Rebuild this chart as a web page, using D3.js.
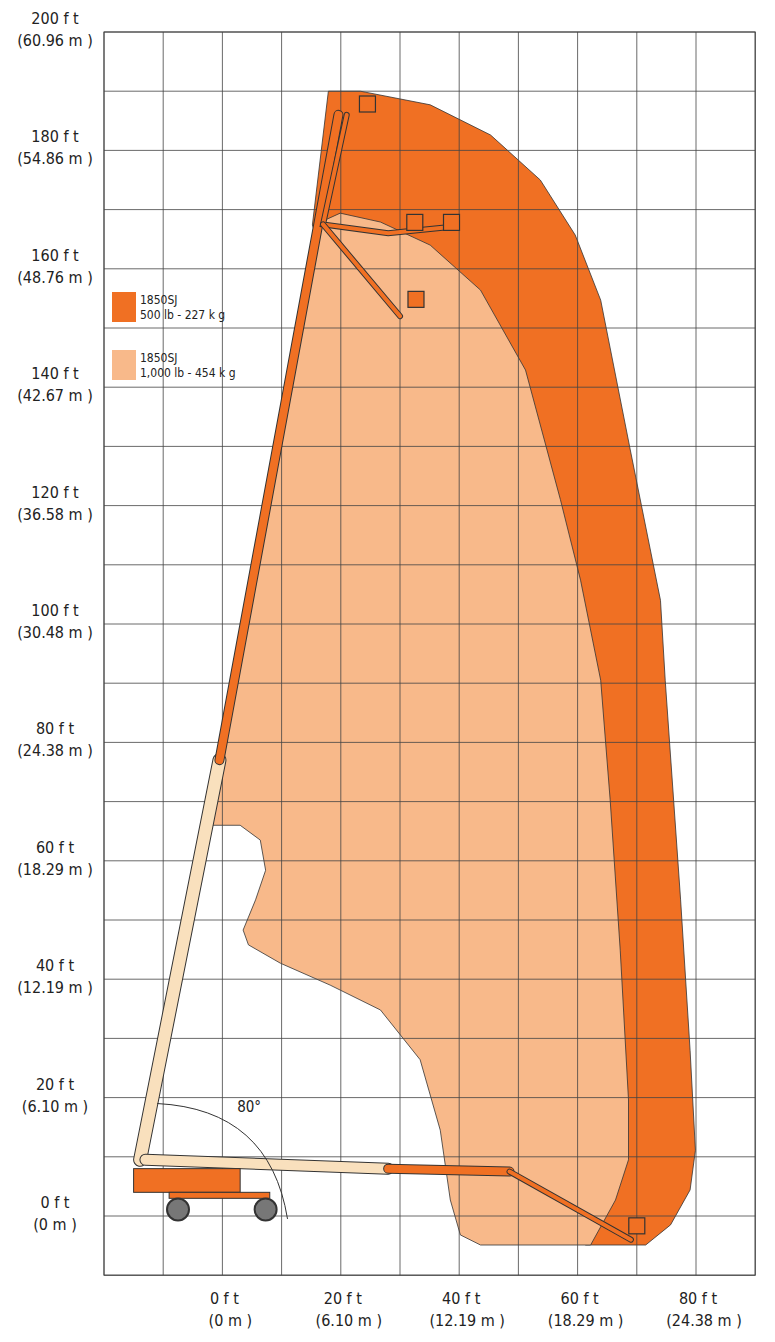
<!DOCTYPE html>
<html><head><meta charset="utf-8">
<script src="https://cdn.jsdelivr.net/npm/d3@7"></script>
<style>body{margin:0;background:#fff}text{font-family:"DejaVu Sans",sans-serif;font-stretch:condensed;fill:#222}</style>
</head><body><div id="chart"></div>
<script>
// envelope outlines, [ft out, ft up]
var outerEnvelope = [[17.9,190],[23.3,190],[35.1,187.7],[45.3,182.6],[53.7,175],[59.6,165.7],[63.9,154.7],[68.9,129.4],[74,104],[74.8,90.5],[77.4,53.4],[79,28],[79.9,11.1],[79,4.4],[75.7,-1.5],[71.5,-4.9],[61.3,-4.9],[47,70],[15.2,167.4]];
var innerEnvelope = [[15.5,167.4],[19.9,169.4],[26.7,167.9],[35.1,164],[43.6,156.4],[51.2,142.9],[57.1,121],[60.5,107.4],[63.9,90.5],[65.5,70.3],[67.2,44.9],[68.6,19.6],[68.6,9.5],[66.4,2.7],[62.2,-4.9],[43.6,-4.9],[40.2,-3.2],[38.5,2.7],[36.8,14.5],[33.4,26.4],[26.7,34.8],[18.2,39],[9.8,42.7],[4.4,45.8],[3.5,48.3],[5.6,53.4],[7.3,58.4],[6.4,63.5],[3,66],[-2,66],[-1.2,77],[4.6,104],[10,134.5]];
var xTicks = [0, 20, 40, 60, 80];
var xMeters = ["0 m", "6.10 m", "12.19 m", "18.29 m", "24.38 m"];
var yTicks = [200, 180, 160, 140, 120, 100, 80, 60, 40, 20, 0];
var yMeters = ["60.96 m", "54.86 m", "48.76 m", "42.67 m", "36.58 m", "30.48 m", "24.38 m", "18.29 m", "12.19 m", "6.10 m", "0 m"];
var legendLabels = [["1850SJ", "500 lb - 227 k      g"], ["1850SJ", "1,000 lb - 454 k      g"]];
var legendColors = ["#f07023", "#f8b98a"];
// machine parts
var boomLower = [[-13.9, 9.5], [-0.5, 77]];
var boomUpper = [[-0.5, 77], [19.6, 186]];
var jibTop = [[21, 186], [17, 167.5], [28, 166], [38, 167]];
var jibDown = [[17, 167.5], [30, 152]];
var flatBoomLight = [[-13, 9.5], [28, 8]];
var flatBoomOrange = [[28, 8], [48.5, 7.5]];
var flatJib = [[48.5, 7.5], [69, -4]];
var baskets = [[24.5, 187.5], [32.5, 167.5], [38.7, 167.5], [32.7, 154.5], [70, -2]];
var wheels = [-7.5, 7.3];

var W = 775, H = 1342;
var x = d3.scaleLinear().domain([-20, 90]).range([104, 755.2]);
var y = d3.scaleLinear().domain([-10, 200]).range([1275.2, 32]);

var svg = d3.select('#chart').append('svg').attr('width', W).attr('height', H);

svg.append('path').datum(outerEnvelope)
    .attr('d', d3.line().x(d => x(d[0])).y(d => y(d[1])).curve(d3.curveLinearClosed))
    .attr('fill', legendColors[0]).attr('stroke', '#333').attr('stroke-width', 0.8);
svg.append('path').datum(innerEnvelope)
    .attr('d', d3.line().x(d => x(d[0])).y(d => y(d[1])).curve(d3.curveLinearClosed))
    .attr('fill', legendColors[1]).attr('stroke', '#333').attr('stroke-width', 0.8);

// grid
svg.append('g').selectAll('line').data(d3.range(-20, 91, 10)).enter().append('line')
    .attr('x1', d => x(d)).attr('x2', d => x(d)).attr('y1', y(200)).attr('y2', y(-10))
    .attr('stroke', '#444').attr('stroke-width', 0.8);
svg.append('g').selectAll('line').data(d3.range(-10, 201, 10)).enter().append('line')
    .attr('y1', d => y(d)).attr('y2', d => y(d)).attr('x1', x(-20)).attr('x2', x(90))
    .attr('stroke', '#444').attr('stroke-width', 0.8);

// machine
var line = d3.line().x(d => x(d[0])).y(d => y(d[1]));
function seg(data, color, w) {
    svg.append('path').datum(data).attr('d', line).attr('fill', 'none')
        .attr('stroke', '#333').attr('stroke-width', w + 2).attr('stroke-linecap', 'round');
    svg.append('path').datum(data).attr('d', line).attr('fill', 'none')
        .attr('stroke', color).attr('stroke-width', w).attr('stroke-linecap', 'round');
}
seg(boomLower, '#f9e0bd', 12);
seg(boomUpper, '#f07023', 8);
seg(jibTop, '#f07023', 4);
seg(jibDown, '#f07023', 4);
seg(flatBoomLight, '#f9e0bd', 10);
seg(flatBoomOrange, '#f07023', 8);
seg(flatJib, '#f07023', 4);
svg.selectAll('rect.basket').data(baskets).enter().append('rect')
    .attr('x', d => x(d[0]) - 8).attr('y', d => y(d[1]) - 10).attr('width', 16).attr('height', 16)
    .attr('fill', '#f07023').attr('stroke', '#333').attr('stroke-width', 1.2);
svg.append('rect').attr('x', x(-15)).attr('y', y(8)).attr('width', x(3) - x(-15)).attr('height', y(4) - y(8))
    .attr('fill', '#f07023').attr('stroke', '#333');
svg.append('rect').attr('x', x(-9)).attr('y', y(4)).attr('width', x(8) - x(-9)).attr('height', 6)
    .attr('fill', '#f07023').attr('stroke', '#333');
svg.selectAll('circle.wheel').data(wheels).enter().append('circle')
    .attr('cx', d => x(d)).attr('cy', y(1.1)).attr('r', 11)
    .attr('fill', '#777').attr('stroke', '#333').attr('stroke-width', 2);

// angle
svg.append('path').attr('d', `M${x(-11)},${y(19)} Q${x(8)},${y(18)} ${x(11)},${y(-0.5)}`)
    .attr('fill', 'none').attr('stroke', '#333').attr('stroke-width', 1);
svg.append('text').attr('x', x(2.5)).attr('y', y(17.5)).attr('font-size', 15).text('80°');

// frame
svg.append('rect').attr('x', x(-20)).attr('y', y(200)).attr('width', x(90) - x(-20)).attr('height', y(-10) - y(200))
    .attr('fill', 'none').attr('stroke', '#444');

// legend
legendLabels.forEach(function (l, i) {
    var ly = 292 + i * 58;
    svg.append('rect').attr('x', 112).attr('y', ly).attr('width', 24).attr('height', 30).attr('fill', legendColors[i]);
    svg.append('text').attr('x', 140).attr('y', ly + 12).attr('font-size', 12).text(l[0]);
    svg.append('text').attr('x', 140).attr('y', ly + 27).attr('font-size', 12).text(l[1]);
});

// axis labels
svg.append('g').selectAll('g').data(yTicks).enter().append('g').each(function (d, i) {
    var g = d3.select(this);
    g.append('text').attr('x', 55).attr('y', y(d) - 8).attr('text-anchor', 'middle').attr('font-size', 16).text(d + ' f  t');
    g.append('text').attr('x', 55).attr('y', y(d) + 14).attr('text-anchor', 'middle').attr('font-size', 16).text('(' + yMeters[i] + '    )');
});
svg.append('g').selectAll('g').data(xTicks).enter().append('g').each(function (d, i) {
    var g = d3.select(this);
    g.append('text').attr('x', x(d) + 2).attr('y', 1304).attr('text-anchor', 'middle').attr('font-size', 16).text(d + ' f  t');
    g.append('text').attr('x', x(d) + 8).attr('y', 1326).attr('text-anchor', 'middle').attr('font-size', 16).text('(' + xMeters[i] + '    )');
});
</script></body></html>
